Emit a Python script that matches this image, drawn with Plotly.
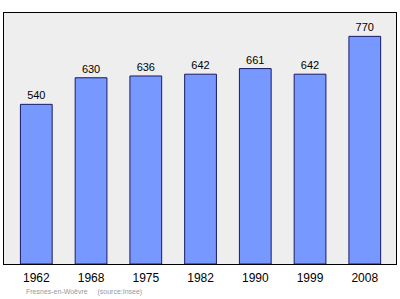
import plotly.graph_objects as go

years = ["1962", "1968", "1975", "1982", "1990", "1999", "2008"]
population = [540, 630, 636, 642, 661, 642, 770]

fig = go.Figure()
fig.add_trace(go.Bar(
    x=years, y=population,
    width=0.58,
    marker=dict(color="#7799ff", line=dict(color="#1a1a66", width=1)),
    text=[str(v) for v in population],
    textposition="outside",
    textfont=dict(family="Liberation Sans", size=11, color="black"),
    cliponaxis=False,
))

fig.update_layout(
    width=400, height=299,
    margin=dict(l=4, r=4, t=13, b=35),
    paper_bgcolor="white",
    plot_bgcolor="#eeeeee",
    showlegend=False,
    xaxis=dict(type="category", range=[-0.59, 6.57], showgrid=False, zeroline=False,
               showline=True, linecolor="black", linewidth=1, mirror=True,
               ticks="", ticklabelstandoff=3,
               tickfont=dict(family="Liberation Sans", size=12, color="black")),
    yaxis=dict(range=[0, 849], showgrid=False, zeroline=False, showticklabels=False,
               showline=True, linecolor="black", linewidth=1, mirror=True, ticks=""),
    annotations=[dict(
        text="Fresnes-en-Woëvre&nbsp;&nbsp;&nbsp;&nbsp;&nbsp;(source:Insee)",
        xref="paper", yref="paper", x=0.05, y=-0.11, xanchor="left", yanchor="middle",
        showarrow=False, font=dict(family="Liberation Sans", size=7, color="#999999"),
    )],
)

fig.write_html("out.html")
